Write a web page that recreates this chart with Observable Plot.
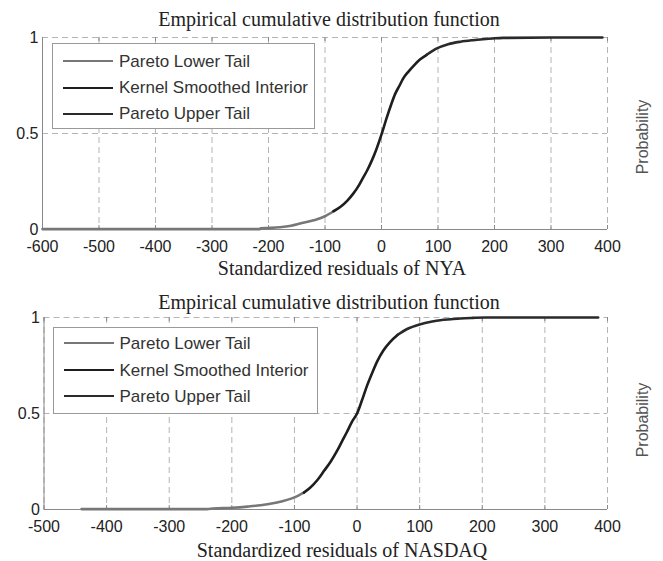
<!DOCTYPE html>
<html>
<head>
<meta charset="utf-8">
<script src="https://cdn.jsdelivr.net/npm/d3@7"></script>
<script src="https://cdn.jsdelivr.net/npm/@observablehq/plot@0.6"></script>
<style>
  html, body { margin: 0; padding: 0; background: #fff; }
  #root { position: relative; width: 663px; height: 561px; overflow: hidden; }
  .abs { position: absolute; line-height: 1; }
  .title, .xlabel { font-family: "Liberation Serif", "DejaVu Serif", serif; color: #222; white-space: nowrap; transform: translate(-50%, -50%); }
  .title { font-size: 20px; }
  .xlabel { font-size: 20px; }
  .ylabel { font-family: "Liberation Sans", Arial, sans-serif; font-size: 16px; color: #555; white-space: nowrap; transform: translate(-50%, -50%) rotate(-90deg); }
  .legend { border: 1px solid #999; background: #fff; box-sizing: border-box; }
  .legend .row { position: absolute; left: 0; height: 20px; transform: translateY(-50%); display: flex; align-items: center; font-family: "Liberation Sans", Arial, sans-serif; font-size: 17px; color: #333; white-space: nowrap; }
  .legend .sw { display: inline-block; width: 50px; height: 0; margin-left: 10px; margin-right: 6px; }
</style>
</head>
<body>
<div id="root"></div>
<script>
// ---------- data ----------
const chartTitle = "Empirical cumulative distribution function";
const legendLabels = ["Pareto Lower Tail", "Kernel Smoothed Interior", "Pareto Upper Tail"];
const segmentColors = ["#777777", "#1e1e1e", "#2a2a2a"];
const yTicks = [0, 0.5, 1];
const yTickLabels = ["0", "0.5", "1"];

const nyaLabel = "Standardized residuals of NYA";
const nyaTicks = [-600, -500, -400, -300, -200, -100, 0, 100, 200, 300, 400];
const nyaX = [-600, -400, -300, -215, -214, -200, -180, -160, -144, -120, -100, -85, -73, -60, -50, -40, -32, -25, -17, -10, 0, 9, 17, 24, 32, 38, 47, 56, 68, 80, 98, 118, 140, 162, 180, 197, 215, 300, 391];
const nyaP = [0.002, 0.002, 0.002, 0.002, 0.006, 0.008, 0.012, 0.02, 0.031, 0.048, 0.069, 0.095, 0.117, 0.152, 0.187, 0.23, 0.273, 0.31, 0.36, 0.41, 0.495, 0.58, 0.65, 0.705, 0.75, 0.785, 0.82, 0.85, 0.885, 0.91, 0.943, 0.965, 0.978, 0.986, 0.991, 0.995, 0.998, 1.0, 1.0];
const nyaLowerEnd = -85;
const nyaUpperStart = 80;

const nasdaqLabel = "Standardized residuals of NASDAQ";
const nasdaqTicks = [-500, -400, -300, -200, -100, 0, 100, 200, 300, 400];
const nasdaqX = [-440, -350, -300, -240, -230, -200, -175, -154, -130, -100, -85, -75, -63, -53, -42, -32, -24, -16, -8, 0, 8, 16, 24, 32, 42, 53, 65, 80, 100, 120, 133, 150, 165, 185, 205, 300, 385];
const nasdaqP = [0.002, 0.002, 0.002, 0.002, 0.005, 0.009, 0.015, 0.022, 0.035, 0.063, 0.088, 0.113, 0.155, 0.2, 0.25, 0.305, 0.355, 0.405, 0.458, 0.5, 0.57, 0.645, 0.71, 0.77, 0.828, 0.873, 0.91, 0.94, 0.964, 0.979, 0.986, 0.991, 0.995, 0.998, 1.0, 1.0, 1.0];
const nasdaqLowerEnd = -85;
const nasdaqUpperStart = 65;

// ---------- helpers ----------
function buildSegments(xs, ps, lowEnd, upStart) {
  const segs = [[], [], []];
  xs.forEach((x, i) => {
    const r = {x, p: ps[i]};
    if (x <= lowEnd) segs[0].push(r);
    if (x >= lowEnd && x <= upStart) segs[1].push(r);
    if (x >= upStart) segs[2].push(r);
  });
  return segs;
}

const root = document.getElementById("root");
function addDiv(cls, text, left, top) {
  const d = document.createElement("div");
  d.className = "abs " + cls;
  d.textContent = text;
  d.style.left = left + "px";
  d.style.top = top + "px";
  root.appendChild(d);
  return d;
}

function panel(cfg) {
  const segs = buildSegments(cfg.xs, cfg.ps, cfg.lowEnd, cfg.upStart);
  const xDomain = [cfg.ticks[0], cfg.ticks[cfg.ticks.length - 1]];
  const frameH = 192;
  const chart = Plot.plot({
    width: 663,
    height: 251,
    marginLeft: cfg.marginLeft,
    marginRight: 56,
    marginTop: 9,
    marginBottom: 50,
    style: {fontFamily: "Liberation Sans, Arial, sans-serif", fontSize: "16px", color: "#222", background: "transparent", overflow: "visible"},
    x: {domain: xDomain},
    y: {domain: [0, 1]},
    marks: [
      Plot.gridX(cfg.ticks, {stroke: "#b4b4b4", strokeOpacity: 1, strokeDasharray: "6,4"}),
      Plot.gridY(yTicks.filter(d => d > 0), {stroke: "#b4b4b4", strokeOpacity: 1, strokeDasharray: "6,4"}),
      Plot.tickX(cfg.ticks, {x: d => d, stroke: "#888", insetBottom: frameH - 4}),
      Plot.tickX(cfg.ticks, {x: d => d, stroke: "#888", insetTop: frameH - 4}),
      Plot.ruleX([xDomain[0]], {stroke: "#888"}),
      Plot.ruleY([0], {stroke: "#888"}),
      Plot.axisX({ticks: cfg.ticks, tickSize: 0, tickPadding: 11, label: null, tickFormat: d => String(d)}),
      Plot.axisY({ticks: yTicks, tickSize: 0, tickPadding: 4, label: null, tickFormat: d => yTickLabels[yTicks.indexOf(d)]}),
      Plot.line(segs[0], {x: "x", y: "p", stroke: segmentColors[0], strokeWidth: 2.6, curve: "monotone-x"}),
      Plot.line(segs[1], {x: "x", y: "p", stroke: segmentColors[1], strokeWidth: 2.6, curve: "monotone-x"}),
      Plot.line(segs[2], {x: "x", y: "p", stroke: segmentColors[2], strokeWidth: 2.6, curve: "monotone-x"})
    ]
  });
  chart.style.position = "absolute";
  chart.style.left = "0px";
  chart.style.top = cfg.top + "px";
  root.appendChild(chart);

  addDiv("title", chartTitle, 329, cfg.titleY);
  addDiv("xlabel", cfg.label, 342, cfg.xlabelY);
  addDiv("ylabel", "Probability", 643, cfg.ylabelY);

  const lg = document.createElement("div");
  lg.className = "abs legend";
  lg.style.left = cfg.legend.left + "px";
  lg.style.top = cfg.legend.top + "px";
  lg.style.width = cfg.legend.width + "px";
  lg.style.height = cfg.legend.height + "px";
  legendLabels.forEach((lab, i) => {
    const row = document.createElement("div");
    row.className = "row";
    row.style.top = cfg.legend.rows[i] + "px";
    const sw = document.createElement("span");
    sw.className = "sw";
    sw.style.borderTop = "2.6px solid " + segmentColors[i];
    row.appendChild(sw);
    const t = document.createElement("span");
    t.textContent = lab;
    row.appendChild(t);
    lg.appendChild(row);
  });
  root.appendChild(lg);
}

panel({
  xs: nyaX, ps: nyaP, lowEnd: nyaLowerEnd, upStart: nyaUpperStart,
  ticks: nyaTicks, label: nyaLabel, marginLeft: 42, top: 28,
  titleY: 19, xlabelY: 268, ylabelY: 137,
  legend: {left: 52, top: 43, width: 263, height: 86, rows: [17, 43.5, 69.5]}
});
panel({
  xs: nasdaqX, ps: nasdaqP, lowEnd: nasdaqLowerEnd, upStart: nasdaqUpperStart,
  ticks: nasdaqTicks, label: nasdaqLabel, marginLeft: 43.5, top: 308,
  titleY: 302, xlabelY: 550, ylabelY: 420,
  legend: {left: 52.5, top: 326.5, width: 265, height: 87, rows: [15.5, 42.5, 68.5]}
});
</script>
</body>
</html>
